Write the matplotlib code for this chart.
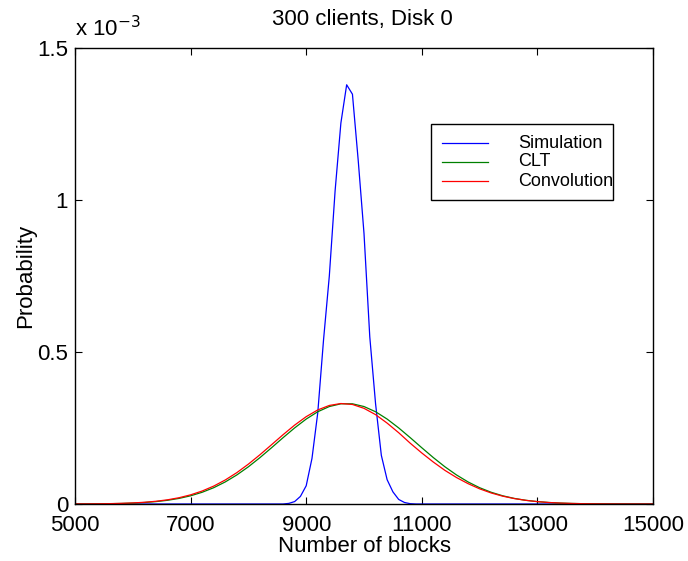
import numpy as np
import matplotlib
matplotlib.use("Agg")
import matplotlib.pyplot as plt
from matplotlib.patches import Rectangle
from matplotlib.lines import Line2D

plt.rcParams['font.family'] = ['Liberation Sans', 'DejaVu Sans']

# Simulated distribution of blocks read (probability, x1e-3)
sim_blocks = [5000] + list(range(8500, 11000, 100)) + [15000]
sim_prob = [0.0, 0.0, 0.0, 0.002, 0.008, 0.025, 0.060, 0.150, 0.300, 0.540, 0.750,
            1.030, 1.253, 1.379, 1.348, 1.130, 0.890, 0.550, 0.330, 0.160,
            0.080, 0.040, 0.015, 0.005, 0.001, 0.0, 0.0]

# Analytical approximations on a common grid (probability, x1e-3)
grid_blocks = list(range(5000, 15001, 200))
clt_prob = [0.000166, 0.000313, 0.000573, 0.00102, 0.00177, 0.00299, 0.00490,
            0.00782, 0.01215, 0.01836, 0.02698, 0.03857, 0.05364, 0.07262,
            0.09561, 0.1224, 0.1526, 0.1850, 0.2182, 0.2503, 0.2794, 0.3035,
            0.3206, 0.3296, 0.3296, 0.3206, 0.3035, 0.2794, 0.2503, 0.2182,
            0.1850, 0.1526, 0.1224, 0.0956, 0.0726, 0.0536, 0.0386, 0.0270,
            0.0184, 0.01215, 0.00782, 0.00490, 0.00299, 0.00177, 0.00102,
            0.000573, 0.000313, 0.000166, 0.000086, 0.000043, 0.000021]
conv_prob = [0.000202, 0.000377, 0.000684, 0.00121, 0.00208, 0.00348, 0.00566,
             0.00896, 0.01379, 0.02066, 0.03012, 0.04270, 0.05893, 0.07907,
             0.1032, 0.1312, 0.1621, 0.1949, 0.2280, 0.2595, 0.2873, 0.3094,
             0.3242, 0.3305, 0.3274, 0.3147, 0.2940, 0.2661, 0.2345, 0.1999,
             0.1678, 0.1379, 0.1106, 0.0871, 0.0670, 0.0499, 0.0363, 0.02575,
             0.01782, 0.01202, 0.00782, 0.00490, 0.00299, 0.00177, 0.00102,
             0.000573, 0.000313, 0.000166, 0.000086, 0.000043, 0.000021]

series_names = ['Simulation', 'CLT', 'Convolution']
series_colors = [(0, 0, 1), (0, 0.5, 0), (1, 0, 0)]

x_ticks = [5000, 7000, 9000, 11000, 13000, 15000]
y_ticks = [0, 0.5, 1, 1.5]
y_tick_labels = ['0', '0.5', '1', '1.5']

W, H = 688, 561
fig = plt.figure(figsize=(W / 100, H / 100), dpi=100)
ax = fig.add_axes([75 / W, 1 - 504 / H, 578 / W, 456 / H])

scale = 1e-3
ax.plot(sim_blocks, np.array(sim_prob) * scale, color=series_colors[0], lw=0.9)
ax.plot(grid_blocks, np.array(clt_prob) * scale, color=series_colors[1], lw=0.9)
ax.plot(grid_blocks, np.array(conv_prob) * scale, color=series_colors[2], lw=0.9)

ax.set_xlim(5000, 15000)
ax.set_ylim(0, 1.5e-3)
ax.set_xticks(x_ticks)
ax.set_xticklabels([str(t) for t in x_ticks])
ax.set_yticks(np.array(y_ticks) * scale)
ax.set_yticklabels(y_tick_labels)
ax.tick_params(direction='in', length=5, width=0.8, top=True, right=True,
               labelsize=16)
ax.tick_params(axis='x', pad=8)
ax.tick_params(axis='y', pad=5)
for sp in ax.spines.values():
    sp.set_linewidth(1.0)

fig.text(75 / W, 1 - 36 / H, r'x 10$^{-3}$', fontsize=16, ha='left', va='baseline')
fig.text(362 / W, 1 - 20 / H, '300 clients, Disk 0', fontsize=16, ha='center', va='center')
ax.set_xlabel('Number of blocks', fontsize=16, labelpad=0)
ax.set_ylabel('Probability', fontsize=16, labelpad=1)

# Boxed key in the upper right, laid out in pixel units
def px(x, y):
    return x / W, 1 - y / H

x0, y0 = px(431, 200)
x1, y1 = px(613, 124)
fig.patches.append(Rectangle((x0, y0), x1 - x0, y1 - y0, transform=fig.transFigure,
                             facecolor='white', edgecolor='black', lw=1.0, zorder=5))
for i, (name, col) in enumerate(zip(series_names, series_colors)):
    yy = 143 + 19 * i
    la, lb = px(442, yy), px(488, yy)
    fig.lines.append(Line2D([la[0], lb[0]], [la[1], lb[1]], color=col, lw=0.9,
                            transform=fig.transFigure, zorder=6))
    tx, ty = px(518, yy)
    fig.text(tx, ty, name, fontsize=13, ha='left', va='center', zorder=6)

fig.savefig('out.png', dpi=100)
